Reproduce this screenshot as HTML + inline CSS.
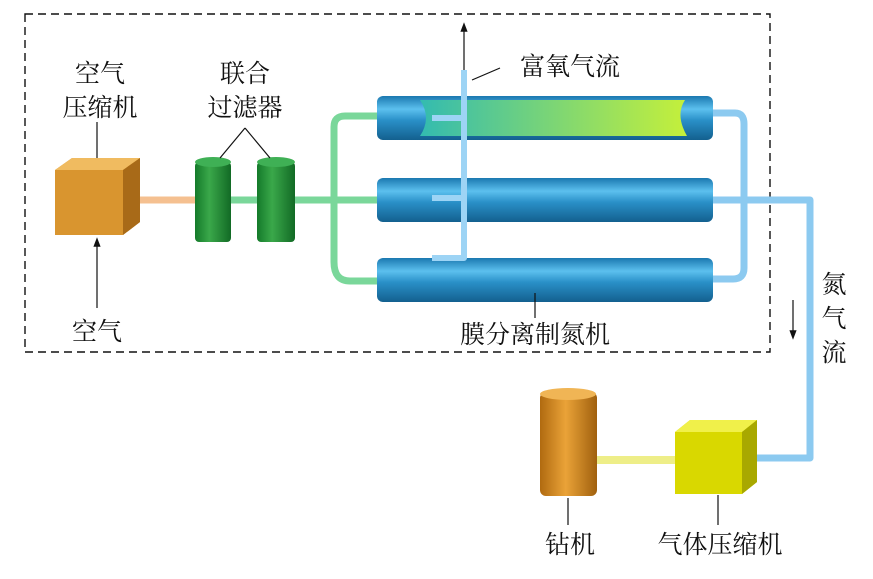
<!DOCTYPE html>
<html><head><meta charset="utf-8"><style>
body{margin:0;background:#fff}
svg text{font-family:"Liberation Serif","Noto Serif CJK SC",serif;font-size:25px;fill:#111}
</style></head><body>
<svg width="873" height="574" viewBox="0 0 873 574" xmlns="http://www.w3.org/2000/svg">
<defs>
<linearGradient id="bt" x1="0" y1="0" x2="0" y2="1">
<stop offset="0" stop-color="#1a78b0"/><stop offset="0.3" stop-color="#5cc0ee"/><stop offset="0.55" stop-color="#2a90c8"/><stop offset="1" stop-color="#13608f"/></linearGradient>
<linearGradient id="gt" x1="0" y1="0" x2="1" y2="0">
<stop offset="0" stop-color="#33bbb0"/><stop offset="1" stop-color="#c5f03a"/></linearGradient>
<linearGradient id="gc" x1="0" y1="0" x2="1" y2="0">
<stop offset="0" stop-color="#147a2a"/><stop offset="0.4" stop-color="#3aa84a"/><stop offset="1" stop-color="#126a25"/></linearGradient>
<linearGradient id="oc" x1="0" y1="0" x2="1" y2="0">
<stop offset="0" stop-color="#b06a10"/><stop offset="0.45" stop-color="#eaa338"/><stop offset="1" stop-color="#a0600e"/></linearGradient>
<marker id="ar" markerWidth="8" markerHeight="8" refX="4" refY="4" orient="auto"><path d="M0,1 L8,4 L0,7 z" fill="#111"/></marker>
</defs>
<rect x="25" y="14" width="745" height="338" fill="none" stroke="#111" stroke-width="1.4" stroke-dasharray="8,5"/>
<g fill="none" stroke="#7ad79a" stroke-width="7" stroke-linejoin="round">
<path d="M295,200 H380"/>
<path d="M380,116 H345 Q334,116 334,127 V262 Q334,281 350,281 H380"/>
<path d="M140,200 H198" stroke="#f5c090"/>
<path d="M230,200 H258"/>
</g>
<g fill="none" stroke="#8ccaf0" stroke-width="7" stroke-linejoin="round">
<path d="M710,113 H735 Q744,113 744,124 V268 Q744,279 733,279 H710"/>
<path d="M710,200 H810 V458 H757"/>
</g>
<rect x="377" y="96" width="336" height="44" rx="6" fill="url(#bt)"/>
<path d="M420,100 H685 Q675,115 687,136 H420 Q432,118 420,100z" fill="url(#gt)"/>
<rect x="377" y="178" width="336" height="44" rx="6" fill="url(#bt)"/>
<rect x="377" y="258" width="336" height="44" rx="6" fill="url(#bt)"/>
<g fill="none" stroke="#9dd4f5" stroke-width="6" stroke-linejoin="round">
<path d="M464,70 V258 H432"/><path d="M432,118 H464"/><path d="M432,198 H464"/>
</g>
<line x1="464" y1="70" x2="464" y2="27" stroke="#111" stroke-width="1.2" marker-end="url(#ar)"/>
<line x1="472" y1="80" x2="500" y2="68" stroke="#111" stroke-width="1.2"/>
<polygon points="55,170 72,158 140,158 140,222 123,235 55,235" fill="#d9952f"/>
<polygon points="55,170 72,158 140,158 123,170" fill="#f0bb60"/>
<polygon points="123,170 140,158 140,222 123,235" fill="#a86a18"/>
<rect x="195" y="162" width="36" height="80" rx="4" fill="url(#gc)"/>
<ellipse cx="213" cy="162" rx="18" ry="5" fill="#3fb055"/>
<rect x="257" y="162" width="38" height="80" rx="4" fill="url(#gc)"/>
<ellipse cx="276" cy="162" rx="19" ry="5" fill="#3fb055"/>
<rect x="540" y="392" width="57" height="104" rx="6" fill="url(#oc)"/>
<ellipse cx="568" cy="394" rx="28" ry="6" fill="#f0b555"/>
<path d="M597,460 H680" stroke="#eeee88" stroke-width="8"/>
<polygon points="675,432 690,420 757,420 757,482 742,494 675,494" fill="#d9d800"/>
<polygon points="675,432 690,420 757,420 742,432" fill="#f0f04a"/>
<polygon points="742,432 757,420 757,482 742,494" fill="#a8a800"/>
<g stroke="#111" stroke-width="1.2" fill="none">
<line x1="97" y1="122" x2="97" y2="158"/>
<line x1="97" y1="308" x2="97" y2="242" marker-end="url(#ar)"/>
<line x1="245" y1="128" x2="220" y2="158"/><line x1="245" y1="128" x2="270" y2="158"/>
<line x1="535" y1="293" x2="535" y2="318"/>
<line x1="793" y1="300" x2="793" y2="335" marker-end="url(#ar)"/>
<line x1="568" y1="498" x2="568" y2="525"/>
<line x1="718" y1="495" x2="718" y2="525"/>
</g>
<text x="100" y="82" text-anchor="middle">空气</text>
<text x="100" y="116" text-anchor="middle">压缩机</text>
<text x="245" y="82" text-anchor="middle">联合</text>
<text x="245" y="116" text-anchor="middle">过滤器</text>
<text x="570" y="75" text-anchor="middle">富氧气流</text>
<text x="535" y="343" text-anchor="middle">膜分离制氮机</text>
<text x="97" y="340" text-anchor="middle">空气</text>
<text x="834" y="293" text-anchor="middle">氮</text>
<text x="834" y="327" text-anchor="middle">气</text>
<text x="834" y="361" text-anchor="middle">流</text>
<text x="570" y="553" text-anchor="middle">钻机</text>
<text x="720" y="553" text-anchor="middle">气体压缩机</text>
</svg>
</body></html>
